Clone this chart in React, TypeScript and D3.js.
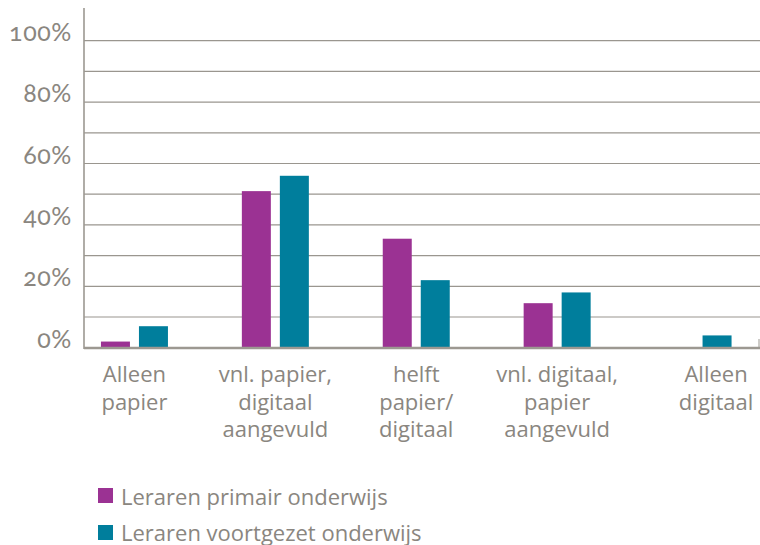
import React from "react";
import * as d3 from "d3";

const categories = [
  "Alleen\npapier",
  "vnl. papier,\ndigitaal\naangevuld",
  "helft\npapier/\ndigitaal",
  "vnl. digitaal,\npapier\naangevuld",
  "Alleen\ndigitaal",
];
const seriesNames = ["Leraren primair onderwijs", "Leraren voortgezet onderwijs"];
const primair = [2, 51, 35.5, 14.5, 0];
const voortgezet = [7, 56, 22, 18, 4];
const yTicks = [0, 20, 40, 60, 80, 100];
const gridValues = [10, 20, 30, 40, 50, 60, 70, 80, 90, 100];

const colors = ["#9b3293", "#007e9c"];
const textColor = "#8a8680";
const lineColor = "#9c9891";
const font = "'Open Sans', 'Noto Sans', sans-serif";

export default function App() {
  const W = 760;
  const H = 545;
  const left = 84;
  const right = 760;
  const y = d3.scaleLinear().domain([0, 100]).range([347.7, 40.7]);
  const x = d3.scaleBand<string>().domain(categories).range([64, 768.5]).padding(0);
  const bw = x.bandwidth();
  const x1 = d3
    .scaleBand<string>()
    .domain(seriesNames)
    .range([bw / 2 - 33.5, bw / 2 + 33.5])
    .paddingInner(0.237);
  const seriesValues = [primair, voortgezet];
  const labelShift = [0, 0, 0, 0, 18];

  return (
    <svg
      width={W}
      height={H}
      style={{ position: "absolute", left: 0, top: 0, background: "#fff" }}
      fontFamily={font}
    >
      {gridValues.map((v) => (
        <line
          key={"g" + v}
          x1={left}
          x2={right}
          y1={y(v)}
          y2={y(v)}
          stroke="#9a968f"
          strokeWidth={1.2}
        />
      ))}
      {yTicks.map((v) => (
        <text
          key={"t" + v}
          x={72}
          y={y(v)}
          textAnchor="end"
          fill={textColor}
          fontSize={25}
          letterSpacing={0.6}
          style={{ fontFamily: "Lato, 'Open Sans', sans-serif", fontFeatureSettings: "'onum' 1", fontVariantNumeric: "oldstyle-nums" }}
        >
          {v + "%"}
        </text>
      ))}
      {categories.map((c, i) => (
        <g key={"c" + i} transform={`translate(${x(c)},0)`}>
          {seriesNames.map((s, j) => {
            const v = seriesValues[j][i];
            if (v <= 0) return null;
            return (
              <rect
                key={s}
                x={x1(s)}
                y={y(v)}
                width={x1.bandwidth()}
                height={y(0) - y(v)}
                fill={colors[j]}
              />
            );
          })}
          <text
            x={bw / 2 + labelShift[i]}
            y={382}
            textAnchor="middle"
            fill={textColor}
            fontSize={22}
          >
            {c.split("\n").map((line, k) => (
              <tspan key={k} x={bw / 2 + labelShift[i]} y={382 + k * 27.5}>
                {line}
              </tspan>
            ))}
          </text>
        </g>
      ))}
      <line x1={left} x2={left} y1={8} y2={349} stroke={lineColor} strokeWidth={1.6} />
      <line x1={left} x2={right} y1={348} y2={348} stroke={lineColor} strokeWidth={2.5} />
      <line x1={759} x2={759} y1={339} y2={349} stroke={lineColor} strokeWidth={1} />
      {seriesNames.map((s, j) => (
        <g key={"l" + j}>
          <rect x={98} y={488 + j * 37} width={15} height={15} fill={colors[j]} />
          <text x={121} y={505 + j * 35.5} fill={textColor} fontSize={22}>
            {s}
          </text>
        </g>
      ))}
    </svg>
  );
}
